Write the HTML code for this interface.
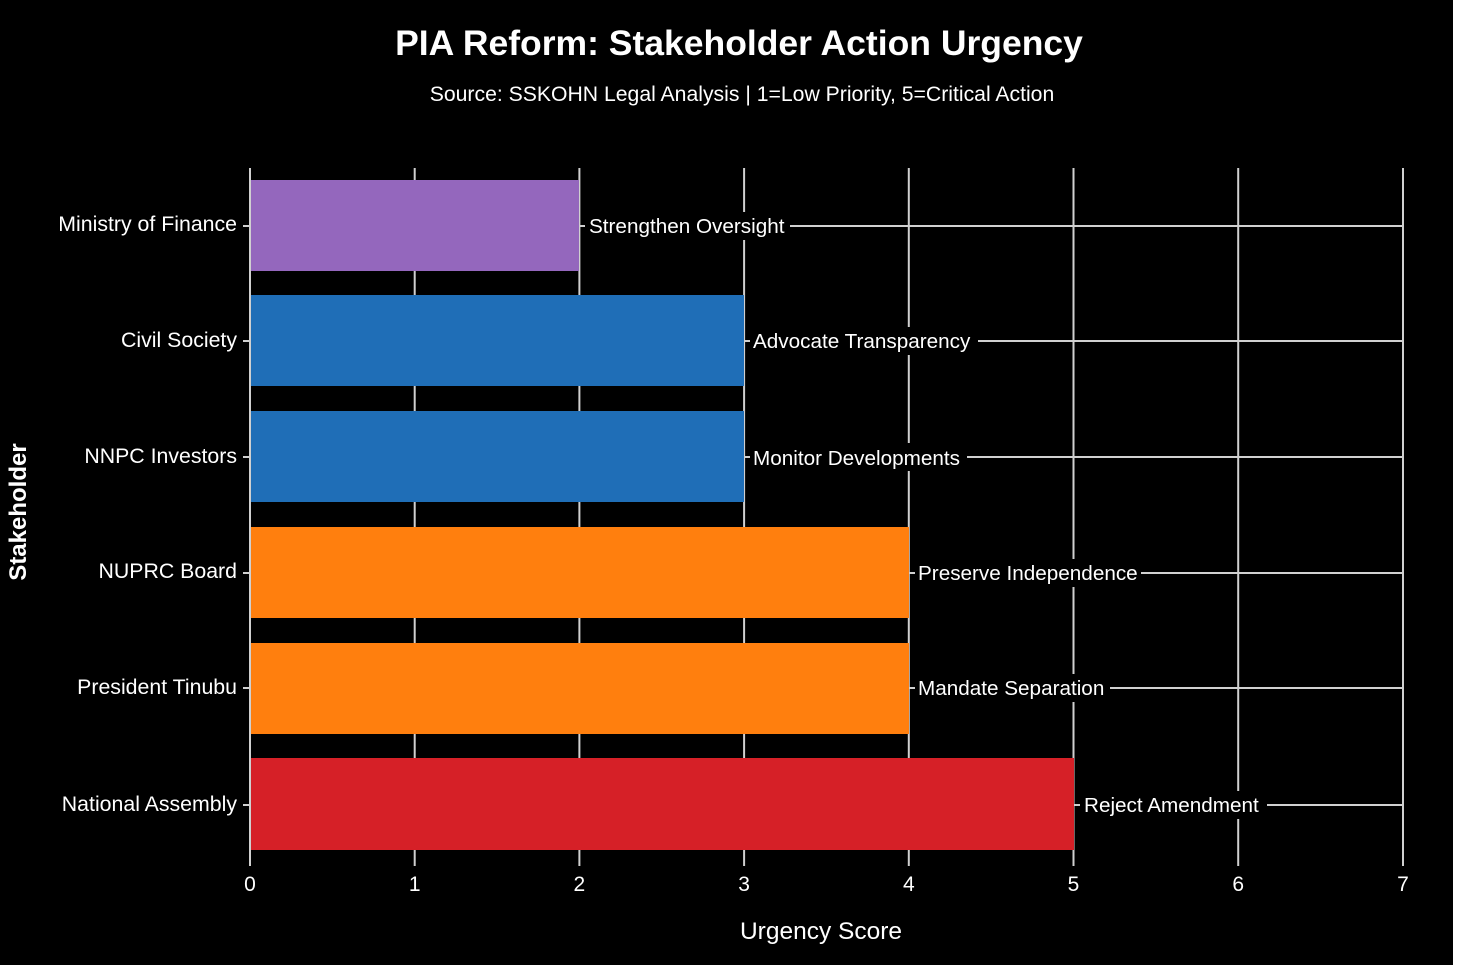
<!DOCTYPE html>
<html><head><style>
html,body{margin:0;padding:0;background:#fff;}
svg{display:block;font-family:"Liberation Sans",Arial,sans-serif;}
</style></head><body>
<svg width="1457" height="968" xmlns="http://www.w3.org/2000/svg">
<rect x="0" y="0" width="1453" height="965" fill="#000"/>
<text x="739" y="55" fill="#fff" font-size="35.5" font-weight="bold" text-anchor="middle">PIA Reform: Stakeholder Action Urgency</text>
<text x="742" y="101" fill="#fff" font-size="21.2" text-anchor="middle">Source: SSKOHN Legal Analysis | 1=Low Priority, 5=Critical Action</text>
<g stroke="#d0d0d0" stroke-width="2">
<line x1="250" y1="168" x2="250" y2="866"/>
<line x1="414.7" y1="168" x2="414.7" y2="866"/>
<line x1="579.4" y1="168" x2="579.4" y2="866"/>
<line x1="744.1" y1="168" x2="744.1" y2="866"/>
<line x1="908.8" y1="168" x2="908.8" y2="866"/>
<line x1="1073.5" y1="168" x2="1073.5" y2="866"/>
<line x1="1238.2" y1="168" x2="1238.2" y2="866"/>
<line x1="1403" y1="168" x2="1403" y2="866"/>
<line x1="243" y1="226" x2="1403" y2="226"/>
<line x1="243" y1="341" x2="1403" y2="341"/>
<line x1="243" y1="457" x2="1403" y2="457"/>
<line x1="243" y1="573" x2="1403" y2="573"/>
<line x1="243" y1="688" x2="1403" y2="688"/>
<line x1="243" y1="805" x2="1403" y2="805"/>
</g>
<rect x="251" y="180" width="328" height="91" fill="#9467bd"/>
<rect x="251" y="295" width="493" height="91" fill="#1f6eb7"/>
<rect x="251" y="411" width="493" height="91" fill="#1f6eb7"/>
<rect x="251" y="527" width="658" height="91" fill="#ff7f0e"/>
<rect x="251" y="643" width="658" height="91" fill="#ff7f0e"/>
<rect x="251" y="758" width="823" height="92" fill="#d62027"/>
<g fill="#000">
<rect x="585" y="212" width="205" height="28"/>
<rect x="750" y="327" width="228" height="28"/>
<rect x="750" y="443" width="217" height="28"/>
<rect x="915" y="559" width="226" height="28"/>
<rect x="915" y="674" width="195" height="28"/>
<rect x="1080" y="791" width="187" height="28"/>
</g>
<g fill="#fff" font-size="20.7">
<text x="589" y="233">Strengthen Oversight</text>
<text x="753" y="348">Advocate Transparency</text>
<text x="753" y="465">Monitor Developments</text>
<text x="918" y="580">Preserve Independence</text>
<text x="918" y="695">Mandate Separation</text>
<text x="1084" y="812">Reject Amendment</text>
</g>
<g fill="#fff" font-size="21.3" text-anchor="end">
<text x="237" y="231">Ministry of Finance</text>
<text x="237" y="347">Civil Society</text>
<text x="237" y="463">NNPC Investors</text>
<text x="237" y="578">NUPRC Board</text>
<text x="237" y="694">President Tinubu</text>
<text x="237" y="811">National Assembly</text>
</g>
<g fill="#fff" font-size="21" text-anchor="middle">
<text x="250" y="891">0</text>
<text x="414.7" y="891">1</text>
<text x="579.4" y="891">2</text>
<text x="744.1" y="891">3</text>
<text x="908.8" y="891">4</text>
<text x="1073.5" y="891">5</text>
<text x="1238.2" y="891">6</text>
<text x="1403" y="891">7</text>
</g>
<text x="821" y="939" fill="#fff" font-size="24.5" text-anchor="middle">Urgency Score</text>
<text transform="translate(26,512) rotate(-90)" fill="#fff" font-size="24" font-weight="bold" text-anchor="middle">Stakeholder</text>
</svg>
</body></html>
